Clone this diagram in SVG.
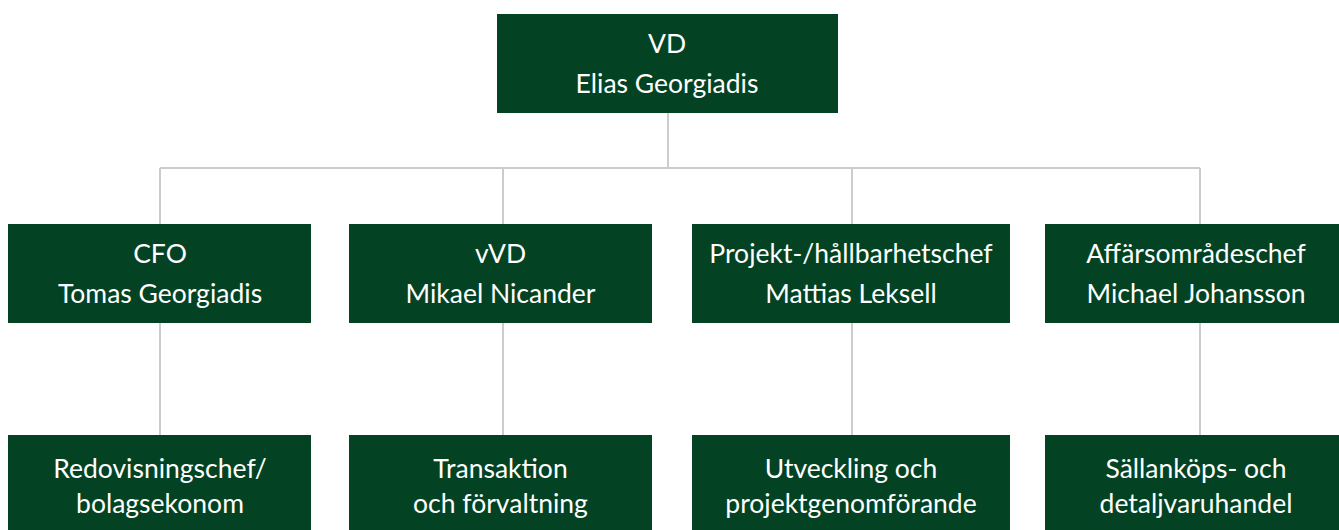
<svg xmlns="http://www.w3.org/2000/svg" width="1339" height="530" viewBox="0 0 1339 530">
<style>
.box{fill:#034324}
.t{font-family:Lato,"Open Sans","Liberation Sans",sans-serif;font-size:26.5px;fill:#ffffff;text-anchor:middle}
.c{stroke:#cccccc;stroke-width:2;fill:none}
</style>
<rect width="1339" height="530" fill="#ffffff"/>
<g id="connectors" class="c">
<path d="M668 113V168M160 168H1200M160 168V224M503 168V224M852 168V224M1200 168V224"/>
<path d="M160 323V435M503 323V435M852 323V435M1200 323V435"/>
</g>
<g id="n-vd"><rect class="box" x="497" y="14" width="341" height="99"/><text class="t" x="667" y="53">VD</text><text class="t" x="667" y="93">Elias Georgiadis</text></g>
<g id="n-cfo"><rect class="box" x="8" y="224" width="303" height="99"/><text class="t" x="160" y="263">CFO</text><text class="t" x="160" y="303">Tomas Georgiadis</text></g>
<g id="n-vvd"><rect class="box" x="349" y="224" width="303" height="99"/><text class="t" x="500.5" y="263">vVD</text><text class="t" x="500.5" y="303">Mikael Nicander</text></g>
<g id="n-proj"><rect class="box" x="692" y="224" width="318" height="99"/><text class="t" x="851" y="263">Projekt-/hållbarhetschef</text><text class="t" x="851" y="303">Mattias Leksell</text></g>
<g id="n-aff"><rect class="box" x="1045" y="224" width="310" height="99"/><text class="t" x="1196" y="263">Affärsområdeschef</text><text class="t" x="1196" y="303">Michael Johansson</text></g>
<g id="n-red"><rect class="box" x="8" y="435" width="303" height="100"/><text class="t" x="160" y="478">Redovisningschef/</text><text class="t" x="160" y="513">bolagsekonom</text></g>
<g id="n-tra"><rect class="box" x="349" y="435" width="303" height="100"/><text class="t" x="500.5" y="478">Transaktion</text><text class="t" x="500.5" y="513">och förvaltning</text></g>
<g id="n-utv"><rect class="box" x="692" y="435" width="318" height="100"/><text class="t" x="851" y="478">Utveckling och</text><text class="t" x="851" y="513">projektgenomförande</text></g>
<g id="n-sal"><rect class="box" x="1045" y="435" width="310" height="100"/><text class="t" x="1196" y="478">Sällanköps- och</text><text class="t" x="1196" y="513">detaljvaruhandel</text></g>
</svg>
